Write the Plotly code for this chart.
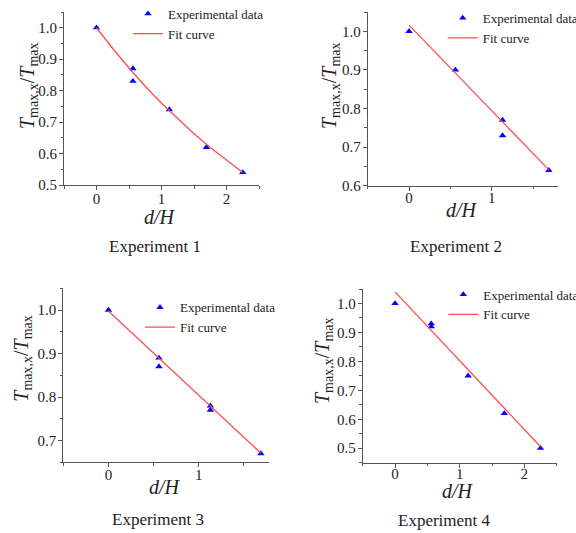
import plotly.graph_objects as go

W, H = 576, 533
FONT = "Liberation Serif"

# ---- data ----
exp1_x = [0, 0.56, 0.56, 1.12, 1.69, 2.25]
exp1_y = [1.0, 0.87, 0.83, 0.74, 0.62, 0.54]
fit1_x = [0, 0.25, 0.5, 0.75, 1.0, 1.25, 1.5, 1.75, 2.0, 2.25]
fit1_y = [1.0, 0.934, 0.872, 0.814, 0.760, 0.710, 0.663, 0.619, 0.578, 0.54]

exp2_x = [0, 0.56, 1.13, 1.13, 1.69]
exp2_y = [1.0, 0.90, 0.77, 0.73, 0.64]
fit2_x = [0, 1.69]
fit2_y = [1.016, 0.641]

exp3_x = [0, 0.56, 0.56, 1.13, 1.13, 1.69]
exp3_y = [1.0, 0.89, 0.87, 0.78, 0.77, 0.67]
fit3_x = [0, 1.69]
fit3_y = [0.998, 0.671]

exp4_x = [0, 0.56, 0.56, 1.13, 1.69, 2.25]
exp4_y = [1.0, 0.93, 0.92, 0.75, 0.62, 0.50]
fit4_x = [0, 2.25]
fit4_y = [1.04, 0.505]

titles = ["Experiment 1", "Experiment 2", "Experiment 3", "Experiment 4"]
x_ranges = [[-0.5, 2.5], [-0.5, 1.8], [-0.5, 1.78], [-0.5, 2.5]]
y_ranges = [[0.5, 1.05], [0.6, 1.05], [0.65, 1.05], [0.45, 1.05]]
y_tick0 = [0.5, 0.6, 0.7, 0.5]

# ---- layout geometry (pixels) ----
def px(x):
    return x / W

def py(y):
    return 1 - y / H

domains = [
    ((64, 259), (185, 12)),
    ((367.7, 558), (185.7, 12)),
    ((63.3, 269), (462.3, 288.3)),
    ((362.7, 556.7), (462.7, 289)),
]
x_standoff = [-4, -6, -5, -7]
legend_pos = [(128, -1.3), (442.7, 3), (140, 292.3), (443.3, 279.5)]
title_pos = [(155, 247), (455.7, 246), (158, 519), (444.5, 520)]
xlab_pos = [(160, 217), (461.7, 210), (165, 486.7), (458, 491)]
ylab_pos = [(28, 86), (330, 86), (21.7, 358), (323, 361)]

data = [(exp1_x, exp1_y, fit1_x, fit1_y), (exp2_x, exp2_y, fit2_x, fit2_y),
        (exp3_x, exp3_y, fit3_x, fit3_y), (exp4_x, exp4_y, fit4_x, fit4_y)]

fig = go.Figure()
layout = dict(
    width=W, height=H, margin=dict(l=0, r=0, t=0, b=0, autoexpand=False),
    paper_bgcolor="white", plot_bgcolor="white",
    font=dict(family=FONT, color="#222", size=14),
    annotations=[],
)

axcol = "#555"
for i, (ex, ey, fx, fy) in enumerate(data):
    n = i + 1
    xa = "x" if n == 1 else f"x{n}"
    ya = "y" if n == 1 else f"y{n}"
    lg = "legend" if n == 1 else f"legend{n}"
    fig.add_trace(go.Scatter(x=ex, y=ey, mode="markers", name="Experimental data",
                             marker=dict(symbol="triangle-up", size=6.5, color="#0000ff"),
                             xaxis=xa, yaxis=ya, legend=lg))
    fig.add_trace(go.Scatter(x=fx, y=fy, mode="lines", name="Fit curve",
                             line=dict(color="#ff4d4d", width=1.3),
                             xaxis=xa, yaxis=ya, legend=lg))
    (x0, x1), (y0, y1) = domains[i]
    xkey = "xaxis" if n == 1 else f"xaxis{n}"
    ykey = "yaxis" if n == 1 else f"yaxis{n}"
    layout[xkey] = dict(
        domain=[px(x0), px(x1)], range=x_ranges[i], anchor=ya,
        showgrid=False, zeroline=False, showline=True, linecolor=axcol, linewidth=1,
        ticks="outside", ticklen=4, tickcolor=axcol, dtick=1, tick0=0,
        ticklabelstandoff=x_standoff[i],
        minor=dict(ticks="outside", ticklen=2.5, dtick=0.5, tick0=0, tickcolor=axcol),
        tickfont=dict(family=FONT, size=15, color="#222"),
    )
    layout[ykey] = dict(
        domain=[py(y0), py(y1)], range=y_ranges[i], anchor=xa,
        showgrid=False, zeroline=False, showline=True, linecolor=axcol, linewidth=1,
        ticks="outside", ticklen=4, tickcolor=axcol, dtick=0.1, tick0=y_tick0[i],
        tickformat=".1f", ticklabelstandoff=-1,
        minor=dict(ticks="outside", ticklen=2.5, dtick=0.05, tick0=y_tick0[i], tickcolor=axcol),
        tickfont=dict(family=FONT, size=15, color="#222"),
    )
    lx, ly = legend_pos[i]
    layout[lg] = dict(x=px(lx), y=py(ly), xanchor="left", yanchor="top",
                      bgcolor="rgba(0,0,0,0)", borderwidth=0,
                      font=dict(family=FONT, size=13, color="#222"))
    tx, ty = title_pos[i]
    layout["annotations"].append(dict(text=titles[i], x=px(tx), y=py(ty), xref="paper", yref="paper",
                                      showarrow=False, xanchor="center", yanchor="middle",
                                      font=dict(family=FONT, size=17, color="#222")))
    ax_, ay_ = xlab_pos[i]
    layout["annotations"].append(dict(text="<i>d/H</i>", x=px(ax_), y=py(ay_), xref="paper", yref="paper",
                                      showarrow=False, xanchor="center", yanchor="middle",
                                      font=dict(family=FONT, size=20, color="#222")))
    bx, by = ylab_pos[i]
    layout["annotations"].append(dict(text="<i>T</i><sub>max,x</sub>/<i>T</i><sub>max</sub>",
                                      x=px(bx), y=py(by), xref="paper", yref="paper",
                                      showarrow=False, xanchor="center", yanchor="middle", textangle=-90,
                                      font=dict(family=FONT, size=20, color="#222")))

fig.update_layout(**layout)
fig.write_html("out.html", config={"displayModeBar": False},
               post_script="document.body.style.margin='0';document.body.style.overflow='hidden';")
